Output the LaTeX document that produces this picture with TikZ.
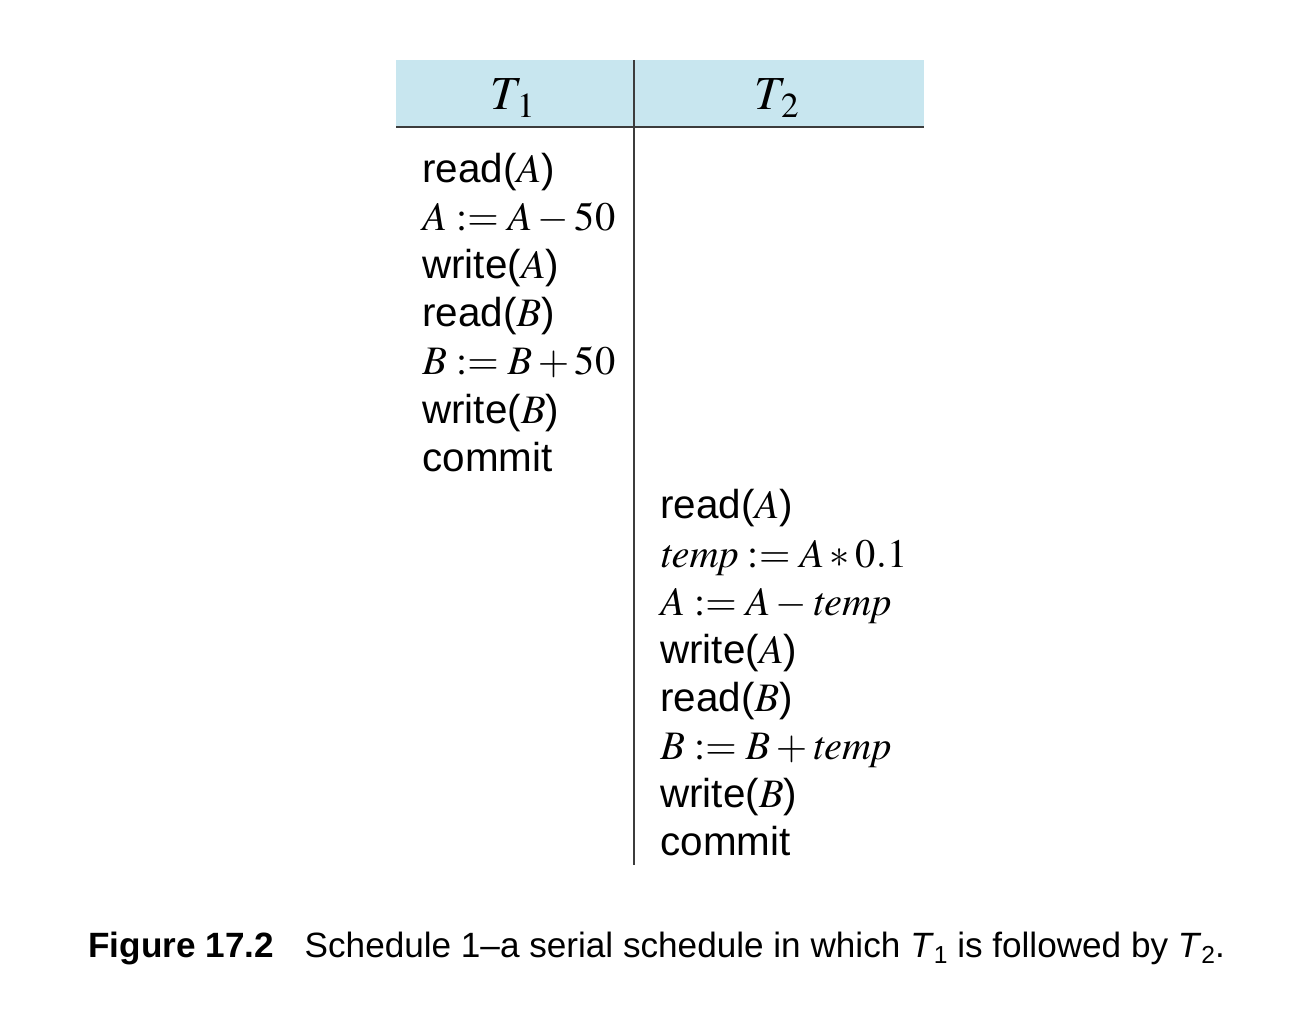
\documentclass[tikz,border=0pt]{standalone}
\usepackage{mathptmx}
\usepackage[no-math]{fontspec}
\setmainfont{Liberation Sans}
\usepackage{tikz}

\definecolor{headblue}{RGB}{200,230,239}
\definecolor{rulegray}{RGB}{60,60,60}

\newcommand{\capsub}[1]{\raisebox{-0.35ex}{\fontsize{14}{16}\selectfont #1}}

\begin{document}
\begin{tikzpicture}[
    x=0.02cm, y=-0.02cm,
    every node/.style={inner sep=0pt},
    op/.style={anchor=base west, font=\fontsize{23}{28}\selectfont},
    head/.style={anchor=base, font=\fontsize{27}{32}\selectfont},
    caption/.style={anchor=base west, font=\fontsize{20}{24}\selectfont}
]
\useasboundingbox (0,0) rectangle (1306,1010);

% header band
\fill[headblue] (396,60) rectangle (924,127);
\coordinate (hl) at (396,127);
\coordinate (hr) at (924,127);
\coordinate (vt) at (634,60);
\coordinate (vb) at (634,865);
\draw[rulegray, line width=1.1pt] (hl) -- (hr);
\draw[rulegray, line width=0.8pt] (vt) -- (vb);

\node[head] (t1) at (513,110) {$T_{\,1}$};
\node[head] (t2) at (777,110) {$T_{\,2}$};

% T1 operations
\node[op] (a1) at (422,183) {read($A$)};
\node[op] (a2) at (422,231) {$A \mathrel{:=} A - 50$};
\node[op] (a3) at (422,279) {write($A$)};
\node[op] (a4) at (422,327) {read($B$)};
\node[op] (a5) at (422,375) {$B \mathrel{:=} B + 50$};
\node[op] (a6) at (422,423) {write($B$)};
\node[op] (a7) at (422,471) {commit};

% T2 operations
\node[op] (b1) at (660,519) {read($A$)};
\node[op] (b2) at (660,567) {$\mathit{temp} \mathrel{:=} A \ast 0.1$};
\node[op] (b3) at (660,615) {$A \mathrel{:=} A - \mathit{temp}$};
\node[op] (b4) at (660,663) {write($A$)};
\node[op] (b5) at (660,711) {read($B$)};
\node[op] (b6) at (660,759) {$B \mathrel{:=} B + \mathit{temp}$};
\node[op] (b7) at (660,807) {write($B$)};
\node[op] (b8) at (660,855) {commit};

\node[caption] (cap) at (88,957) {\textbf{Figure 17.2}\hspace{0.6em} Schedule 1--a serial schedule in which \textit{T}\capsub{1} is followed by \textit{T}\capsub{2}.};

\end{tikzpicture}
\end{document}
